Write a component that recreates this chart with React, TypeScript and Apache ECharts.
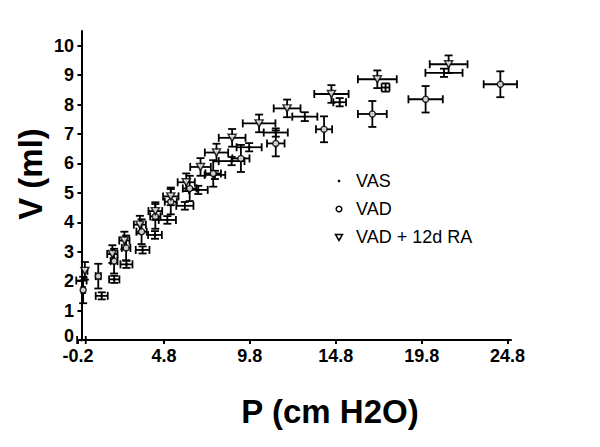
import React, { useEffect, useRef } from "react";
import * as echarts from "echarts";

// VAS series (small dots)
const vasX = [0.0, 0.0, 1.18, 1.91, 2.62, 3.56, 4.28, 5.0, 6.02, 6.8, 7.77, 8.74, 9.76, 11.31, 13.0, 15.03, 17.7, 21.1];
const vasY = [0.0, 2.02, 1.5, 2.06, 2.57, 3.06, 3.57, 4.08, 4.56, 5.1, 5.61, 6.08, 6.55, 7.05, 7.59, 8.08, 8.58, 9.08];
const vasXErr = [0.25, 0.3, 0.35, 0.3, 0.35, 0.4, 0.4, 0.5, 0.5, 0.55, 0.6, 0.75, 0.73, 0.7, 0.73, 0.37, 0.23, 1.08];
const vasYErr = [0.0, 0.0, 0.12, 0.12, 0.12, 0.12, 0.13, 0.13, 0.13, 0.14, 0.14, 0.14, 0.14, 0.14, 0.15, 0.14, 0.14, 0.14];

// VAD series (open circles)
const vadX = [0.1, 0.98, 1.9, 2.6, 3.5, 4.3, 5.2, 6.3, 7.67, 9.28, 11.31, 14.12, 16.93, 20.03, 24.38];
const vadY = [1.7, 2.17, 2.68, 3.13, 3.68, 4.2, 4.7, 5.15, 5.66, 6.17, 6.68, 7.16, 7.68, 8.18, 8.69];
const vadXErr = [0.1, 0.15, 0.2, 0.25, 0.3, 0.3, 0.35, 0.4, 0.45, 0.5, 0.51, 0.47, 0.84, 1.0, 0.97];
const vadYErr = [0.45, 0.42, 0.42, 0.42, 0.42, 0.42, 0.43, 0.43, 0.45, 0.46, 0.44, 0.44, 0.44, 0.45, 0.44];

// VAD + 12d RA series (open down-triangles)
const raX = [0.2, 1.8, 2.5, 3.4, 4.3, 5.2, 6.1, 6.93, 7.86, 8.77, 10.34, 11.97, 14.55, 17.22, 21.37];
const raY = [2.35, 2.92, 3.38, 3.92, 4.38, 4.88, 5.36, 5.88, 6.37, 6.87, 7.36, 7.87, 8.36, 8.86, 9.37];
const raXErr = [0.15, 0.3, 0.3, 0.35, 0.4, 0.45, 0.5, 0.6, 0.68, 0.78, 0.95, 0.78, 1.0, 1.13, 1.1];
const raYErr = [0.3, 0.3, 0.3, 0.3, 0.3, 0.3, 0.3, 0.3, 0.3, 0.3, 0.3, 0.3, 0.3, 0.3, 0.3];

const xTicks = [-0.2, 4.8, 9.8, 14.8, 19.8, 24.8];
const yTicks = [0, 1, 2, 3, 4, 5, 6, 7, 8, 9, 10];

const seriesNames = ["VAS", "VAD", "VAD + 12d RA"];

const FONT = "Liberation Sans, Arial, sans-serif";

function rows(xs: number[], ys: number[], ex: number[], ey: number[]) {
  return xs.map((x, i) => [x, ys[i], ex[i], ey[i]]);
}

const errorBarRender = (params: any, api: any) => {
  const x = api.value(0);
  const y = api.value(1);
  const ex = api.value(2);
  const ey = api.value(3);
  const cap = 4;
  const style = { stroke: "#000", lineWidth: 1.8 };
  const children: any[] = [];
  if (ex > 0) {
    const l = api.coord([x - ex, y]);
    const r = api.coord([x + ex, y]);
    children.push({ type: "line", shape: { x1: l[0], y1: l[1], x2: r[0], y2: r[1] }, style });
    children.push({ type: "line", shape: { x1: l[0], y1: l[1] - cap, x2: l[0], y2: l[1] + cap }, style });
    children.push({ type: "line", shape: { x1: r[0], y1: r[1] - cap, x2: r[0], y2: r[1] + cap }, style });
  }
  if (ey > 0) {
    const t = api.coord([x, y + ey]);
    const b = api.coord([x, y - ey]);
    children.push({ type: "line", shape: { x1: t[0], y1: t[1], x2: b[0], y2: b[1] }, style });
    children.push({ type: "line", shape: { x1: t[0] - cap, y1: t[1], x2: t[0] + cap, y2: t[1] }, style });
    children.push({ type: "line", shape: { x1: b[0] - cap, y1: b[1], x2: b[0] + cap, y2: b[1] }, style });
  }
  return { type: "group", children };
};

const TRI = "path://M0,0L10,0L5,9Z";

export default function App() {
  const ref = useRef<HTMLDivElement>(null);
  useEffect(() => {
    const chart = echarts.init(ref.current!, null, { renderer: "svg" });
    const errSeries = (name: string, data: number[][]) => ({
      type: "custom",
      name: name + " err",
      renderItem: errorBarRender,
      data,
      encode: { x: 0, y: 1 },
      clip: false,
      silent: true,
      z: 1,
    });
    const option: any = {
      animation: false,
      backgroundColor: "#fff",
      grid: { left: 78, right: 89, top: 31, bottom: 107, containLabel: false },
      xAxis: {
        type: "value",
        min: -0.2,
        max: 25.0,
        splitLine: { show: false },
        axisLine: { lineStyle: { color: "#000", width: 2 } },
        axisTick: { show: true, length: 4, customValues: xTicks, lineStyle: { color: "#000", width: 2 } },
        axisLabel: {
          customValues: xTicks,
          formatter: (v: number) => v.toFixed(1),
          color: "#000",
          fontWeight: "bold",
          fontSize: 18,
          lineHeight: 14,
          fontFamily: FONT,
          margin: 9,
        },
      },
      yAxis: {
        type: "value",
        min: 0,
        max: 10.5,
        splitLine: { show: false },
        axisLine: { lineStyle: { color: "#000", width: 2 } },
        axisTick: { show: true, length: 4, customValues: yTicks, lineStyle: { color: "#000", width: 2 } },
        axisLabel: {
          customValues: yTicks,
          formatter: (v: number) => (v === 0 ? "{z|0}" : String(v)),
          color: "#000",
          fontWeight: "bold",
          fontSize: 18,
          lineHeight: 14,
          fontFamily: FONT,
          margin: 4,
          rich: {
            z: {
              color: "#000",
              fontWeight: "bold",
              fontSize: 18,
              lineHeight: 14,
              fontFamily: FONT,
              padding: [0, 0, 8, 0],
            },
          },
        },
      },
      series: [
        errSeries(seriesNames[0], rows(vasX, vasY, vasXErr, vasYErr)),
        errSeries(seriesNames[1], rows(vadX, vadY, vadXErr, vadYErr)),
        errSeries(seriesNames[2], rows(raX, raY, raXErr, raYErr)),
        {
          type: "scatter",
          name: seriesNames[0],
          data: vasX.map((x, i) => [x, vasY[i]]),
          symbol: "circle",
          symbolSize: 3,
          itemStyle: { color: "#000" },
          z: 3,
        },
        {
          type: "scatter",
          name: seriesNames[1],
          data: vadX.map((x, i) => [x, vadY[i]]),
          symbol: "circle",
          symbolSize: 6,
          itemStyle: { color: "#fff", borderColor: "#000", borderWidth: 1.5 },
          z: 3,
        },
        {
          type: "scatter",
          name: seriesNames[2],
          data: raX.map((x, i) => [x, raY[i]]),
          symbol: TRI,
          symbolSize: [8, 7],
          itemStyle: { color: "#fff", borderColor: "#000", borderWidth: 1.5 },
          z: 3,
        },
      ],
      graphic: [
        {
          type: "text",
          x: 30,
          y: 174,
          rotation: Math.PI / 2,
          style: { text: "V (ml)", fill: "#000", font: `bold 33px ${FONT}`, align: "center", verticalAlign: "middle" },
        },
        {
          type: "text",
          x: 330,
          y: 411,
          style: { text: "P (cm H2O)", fill: "#000", font: `bold 33px ${FONT}`, align: "center", verticalAlign: "middle" },
        },
        // legend
        { type: "circle", shape: { cx: 339, cy: 181, r: 1.3 }, style: { fill: "#000" } },
        { type: "circle", shape: { cx: 339, cy: 209, r: 2.8 }, style: { fill: "#fff", stroke: "#000", lineWidth: 1.5 } },
        {
          type: "polygon",
          shape: { points: [[335.5, 234.5], [342.5, 234.5], [339, 240.5]] },
          style: { fill: "#fff", stroke: "#000", lineWidth: 1.5 },
        },
        { type: "text", x: 356, y: 181, style: { text: seriesNames[0], fill: "#000", font: `18px ${FONT}`, verticalAlign: "middle" } },
        { type: "text", x: 356, y: 209, style: { text: seriesNames[1], fill: "#000", font: `18px ${FONT}`, verticalAlign: "middle" } },
        { type: "text", x: 356, y: 237, style: { text: seriesNames[2], fill: "#000", font: `18px ${FONT}`, verticalAlign: "middle" } },
      ],
    };
    chart.setOption(option);
    return () => chart.dispose();
  }, []);
  return (
    <div
      ref={ref}
      style={{ position: "fixed", left: 0, top: 0, width: 600, height: 447, background: "#fff" }}
    />
  );
}
